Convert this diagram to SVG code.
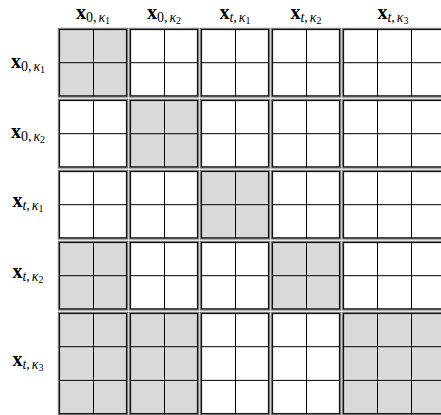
<svg xmlns="http://www.w3.org/2000/svg" xmlns:xlink="http://www.w3.org/1999/xlink" width="441" height="415" viewBox="0 0 441 415">
<style>
.o{stroke:#7a7a7a;stroke-width:2.4}
.i{fill:none;stroke:#111;stroke-width:1}
.ln{stroke:#000;stroke-width:1}
.lbl{font-family:"Liberation Serif","DejaVu Serif",serif;fill:#000}
.bx{font-weight:bold;font-size:20px}
.sb{font-size:14px}
.it{font-style:italic}
.ss{font-size:10px}
.g{fill:#d9d9d9}
.w{fill:#ffffff}
</style>
<defs>
<g id="b22">
<rect class="o" x="0" y="0" width="68" height="67.4"/>
<line class="ln" x1="34.5" y1="0" x2="34.5" y2="67.4"/>
<line class="ln" x1="0" y1="33.7" x2="68" y2="33.7"/>
<rect class="i" x="0.5" y="0.5" width="67" height="66.4"/>
</g>
<g id="b32">
<rect class="o" x="0" y="0" width="102" height="67.4"/>
<line class="ln" x1="34.5" y1="0" x2="34.5" y2="67.4"/>
<line class="ln" x1="68.5" y1="0" x2="68.5" y2="67.4"/>
<line class="ln" x1="0" y1="33.7" x2="102" y2="33.7"/>
<rect class="i" x="0.5" y="0.5" width="101" height="66.4"/>
</g>
<g id="b23">
<rect class="o" x="0" y="0" width="68" height="101.1"/>
<line class="ln" x1="34.5" y1="0" x2="34.5" y2="101.1"/>
<line class="ln" x1="0" y1="33.7" x2="68" y2="33.7"/>
<line class="ln" x1="0" y1="67.4" x2="68" y2="67.4"/>
<rect class="i" x="0.5" y="0.5" width="67" height="100.1"/>
</g>
<g id="b33">
<rect class="o" x="0" y="0" width="102" height="101.1"/>
<line class="ln" x1="34.5" y1="0" x2="34.5" y2="101.1"/>
<line class="ln" x1="68.5" y1="0" x2="68.5" y2="101.1"/>
<line class="ln" x1="0" y1="33.7" x2="102" y2="33.7"/>
<line class="ln" x1="0" y1="67.4" x2="102" y2="67.4"/>
<rect class="i" x="0.5" y="0.5" width="101" height="100.1"/>
</g>
</defs>
<rect x="0" y="0" width="441" height="415" fill="#ffffff"/>

<g id="col-headers" class="lbl">
<text x="93" y="19" text-anchor="middle"><tspan class="bx">x</tspan><tspan class="sb" dy="3">0,</tspan><tspan class="sb it" dx="2">κ</tspan><tspan class="ss" dy="2">1</tspan></text>
<text x="164" y="19" text-anchor="middle"><tspan class="bx">x</tspan><tspan class="sb" dy="3">0,</tspan><tspan class="sb it" dx="2">κ</tspan><tspan class="ss" dy="2">2</tspan></text>
<text x="235" y="19" text-anchor="middle"><tspan class="bx">x</tspan><tspan class="sb it" dy="3">t</tspan><tspan class="sb">,</tspan><tspan class="sb it" dx="2">κ</tspan><tspan class="ss" dy="2">1</tspan></text>
<text x="306" y="19" text-anchor="middle"><tspan class="bx">x</tspan><tspan class="sb it" dy="3">t</tspan><tspan class="sb">,</tspan><tspan class="sb it" dx="2">κ</tspan><tspan class="ss" dy="2">2</tspan></text>
<text x="393" y="19" text-anchor="middle"><tspan class="bx">x</tspan><tspan class="sb it" dy="3">t</tspan><tspan class="sb">,</tspan><tspan class="sb it" dx="2">κ</tspan><tspan class="ss" dy="2">3</tspan></text>
</g>

<g id="row-headers" class="lbl">
<text x="28" y="68" text-anchor="middle"><tspan class="bx">x</tspan><tspan class="sb" dy="3">0,</tspan><tspan class="sb it" dx="2">κ</tspan><tspan class="ss" dy="2">1</tspan></text>
<text x="28" y="137.5" text-anchor="middle"><tspan class="bx">x</tspan><tspan class="sb" dy="3">0,</tspan><tspan class="sb it" dx="2">κ</tspan><tspan class="ss" dy="2">2</tspan></text>
<text x="28" y="206.5" text-anchor="middle"><tspan class="bx">x</tspan><tspan class="sb it" dy="3">t</tspan><tspan class="sb">,</tspan><tspan class="sb it" dx="2">κ</tspan><tspan class="ss" dy="2">1</tspan></text>
<text x="28" y="277.5" text-anchor="middle"><tspan class="bx">x</tspan><tspan class="sb it" dy="3">t</tspan><tspan class="sb">,</tspan><tspan class="sb it" dx="2">κ</tspan><tspan class="ss" dy="2">2</tspan></text>
<text x="28" y="365.5" text-anchor="middle"><tspan class="bx">x</tspan><tspan class="sb it" dy="3">t</tspan><tspan class="sb">,</tspan><tspan class="sb it" dx="2">κ</tspan><tspan class="ss" dy="2">3</tspan></text>
</g>

<g id="blocks">
<g id="r1c1"><use xlink:href="#b22" href="#b22" x="59" y="29" class="g"/></g>
<g id="r1c2"><use xlink:href="#b22" href="#b22" x="130" y="29" class="w"/></g>
<g id="r1c3"><use xlink:href="#b22" href="#b22" x="201" y="29" class="w"/></g>
<g id="r1c4"><use xlink:href="#b22" href="#b22" x="272" y="29" class="w"/></g>
<g id="r1c5"><use xlink:href="#b32" href="#b32" x="343" y="29" class="w"/></g>

<g id="r2c1"><use xlink:href="#b22" href="#b22" x="59" y="100" class="w"/></g>
<g id="r2c2"><use xlink:href="#b22" href="#b22" x="130" y="100" class="g"/></g>
<g id="r2c3"><use xlink:href="#b22" href="#b22" x="201" y="100" class="w"/></g>
<g id="r2c4"><use xlink:href="#b22" href="#b22" x="272" y="100" class="w"/></g>
<g id="r2c5"><use xlink:href="#b32" href="#b32" x="343" y="100" class="w"/></g>

<g id="r3c1"><use xlink:href="#b22" href="#b22" x="59" y="171" class="w"/></g>
<g id="r3c2"><use xlink:href="#b22" href="#b22" x="130" y="171" class="w"/></g>
<g id="r3c3"><use xlink:href="#b22" href="#b22" x="201" y="171" class="g"/></g>
<g id="r3c4"><use xlink:href="#b22" href="#b22" x="272" y="171" class="w"/></g>
<g id="r3c5"><use xlink:href="#b32" href="#b32" x="343" y="171" class="w"/></g>

<g id="r4c1"><use xlink:href="#b22" href="#b22" x="59" y="242" class="g"/></g>
<g id="r4c2"><use xlink:href="#b22" href="#b22" x="130" y="242" class="w"/></g>
<g id="r4c3"><use xlink:href="#b22" href="#b22" x="201" y="242" class="w"/></g>
<g id="r4c4"><use xlink:href="#b22" href="#b22" x="272" y="242" class="g"/></g>
<g id="r4c5"><use xlink:href="#b32" href="#b32" x="343" y="242" class="w"/></g>

<g id="r5c1"><use xlink:href="#b23" href="#b23" x="59" y="313" class="g"/></g>
<g id="r5c2"><use xlink:href="#b23" href="#b23" x="130" y="313" class="g"/></g>
<g id="r5c3"><use xlink:href="#b23" href="#b23" x="201" y="313" class="w"/></g>
<g id="r5c4"><use xlink:href="#b23" href="#b23" x="272" y="313" class="w"/></g>
<g id="r5c5"><use xlink:href="#b33" href="#b33" x="343" y="313" class="g"/></g>
</g>

<g id="connectors"/>
</svg>
